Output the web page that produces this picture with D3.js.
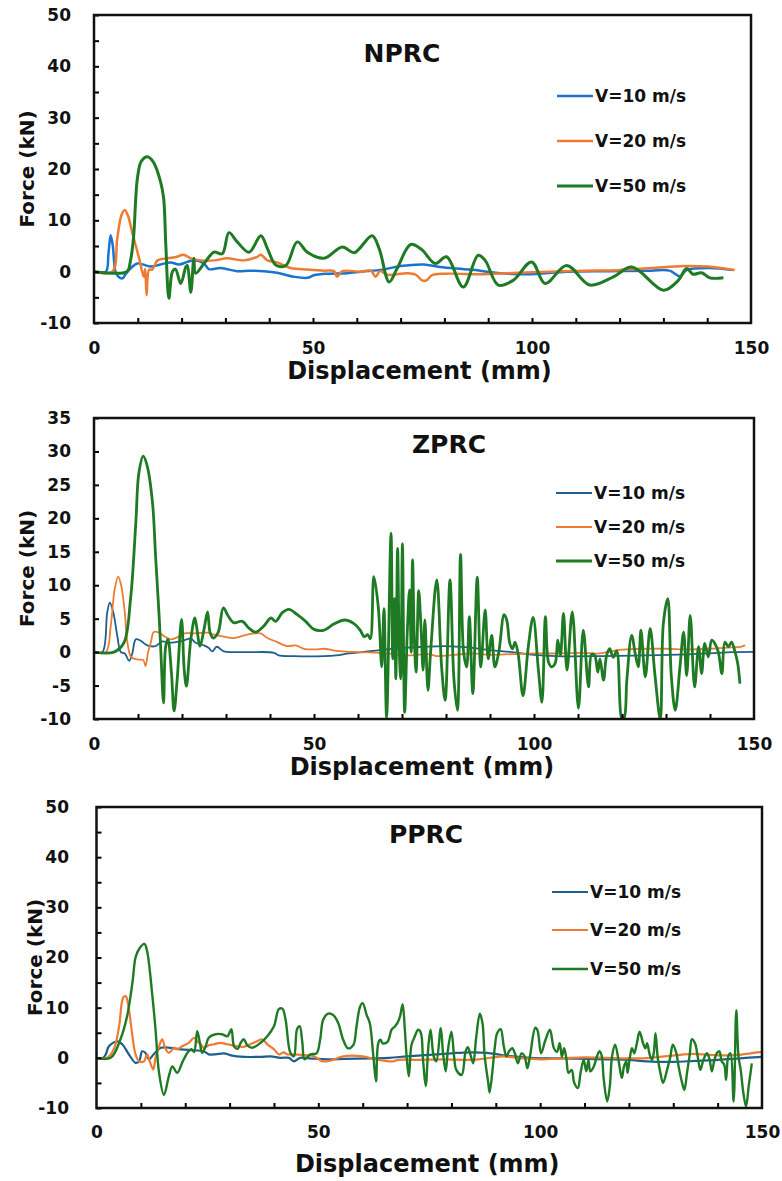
<!DOCTYPE html>
<html lang="en">
<head>
    <meta charset="UTF-8">
    <title>Force - displacement curves</title>
    <script src="https://d3js.org/d3.v7.min.js"></script>
    <style>
        body {
            margin: 0;
            padding: 0;
            background: #fff;
        }

        svg text {
            font-family: "DejaVu Sans", sans-serif;
            font-weight: bold;
            fill: #111;
        }

        .tick line {
            stroke: #000;
            stroke-width: 2;
        }
    </style>
</head>
<body>

<svg id="chart" width="782" height="1181"></svg>

<script>
    // Series labels and panel names
    const panelNames = ["NPRC", "ZPRC", "PPRC"];
    const seriesLabels = ["V=10 m/s", "V=20 m/s", "V=50 m/s"];

    // Tick labels
    const xTickLabels = [0, 50, 100, 150];
    const yTicksNPRC = [-10, 0, 10, 20, 30, 40, 50];
    const yTicksZPRC = [-10, -5, 0, 5, 10, 15, 20, 25, 30, 35];
    const yTicksPPRC = [-10, 0, 10, 20, 30, 40, 50];

    // NPRC: [displacement (mm), force (kN)]
    const nprcV10 = [[0,0],[2.7,0],[3.3,3.5],[3.8,7.1],[4.3,5],[4.9,0],[5.6,-1.0],[6.5,-1.3],[7.2,-0.5],[8.2,0.5],[9.9,1.6],[12.9,1.0],[15.2,1.4],[17.5,1.8],[19.4,1.4],[21.3,1.9],[22.8,2.2],[25.1,1.6],[26.2,0.5],[28.9,0.7],[32.7,0.1],[35.5,0.2],[38.8,0.1],[41.8,-0.2],[45.7,-1.0],[48.7,-1.2],[50.2,-0.7],[53.3,-0.4],[57.8,-0.3],[61,0],[65.9,0.4],[70.0,1.1],[75.3,1.4],[79,0.9],[85.8,0.4],[92.9,-0.3],[99.0,-0.5],[108.1,0],[117.3,0.1],[127.2,0.2],[131.4,0.2],[133.8,-0.9],[135.3,0.3],[140.6,0.7],[146.0,0.3]];
    const nprcV20 = [[0,0],[4.2,0],[5.3,6.4],[6.2,10.8],[7.0,12.0],[7.8,10.8],[8.7,7.7],[10.3,2.6],[11.0,0],[11.4,-1],[11.7,0.5],[12.0,-4.6],[12.6,0.4],[13.3,0.4],[14.5,2.2],[16.7,2.6],[19.0,2.9],[20.4,3.3],[22.1,2.6],[24.4,2.2],[27.5,2.2],[30.4,2.6],[34.2,2.2],[37.3,2.9],[38.1,3.3],[39.6,2.2],[41.8,1.8],[44.9,0.7],[48.7,0.4],[52.5,0.2],[54.8,0.1],[55.5,-1.0],[56.7,0.1],[60.9,0],[63.2,0.2],[64.3,-1.0],[65.3,0.1],[67.0,-0.6],[71.5,-0.3],[73.5,-0.6],[74.9,-1.7],[75.9,-1.7],[77.1,-0.7],[80.2,-0.4],[89.3,-0.5],[96.8,-0.2],[104.4,0],[112,0.2],[119.6,0.3],[127.2,0.7],[134.8,1.1],[140.1,1.0],[146.3,0.3]];
    const nprcV50 = [[0,0],[7.5,0],[8.3,2],[9.0,6.4],[9.9,18.1],[10.8,21.5],[12.2,22.4],[13.6,21.3],[15.2,17.5],[15.9,14.3],[16.4,5.1],[17.1,-5.2],[17.9,0],[18.6,0.5],[19.8,-2.3],[21.0,1.0],[21.3,1.2],[22.1,-4.0],[22.8,2.6],[23.2,-0.3],[25.3,1.8],[27.4,3.8],[29.3,3.5],[30.8,7.6],[32.7,5.8],[35.4,3.8],[38.1,7.0],[39.6,4.5],[41.5,1.3],[43.8,1.2],[46.4,5.8],[48.7,3.8],[52.5,2.6],[56.7,4.8],[59.4,3.7],[63.5,7.0],[65.1,4.5],[67.4,-2.0],[69.2,0.6],[72.3,5.3],[74.8,4.3],[77.9,1.6],[80.5,2.9],[84.3,-3.0],[87.7,3.2],[89.3,2.2],[92.3,-2.6],[95.7,-1.7],[99.9,1.9],[103,-2.3],[107.9,1.2],[113.2,-2.6],[118.6,-1.0],[122.8,0.9],[130.0,-3.6],[133.4,-1.7],[135.3,0.6],[136.8,-0.5],[138.7,-0.2],[140.6,-1.2],[143.7,-1.2]];

    // ZPRC
    const zprcV10 = [[0,0],[1.9,0],[3.0,5.9],[3.6,7.4],[4.4,5.9],[5.3,2.4],[6.1,0],[7.0,-0.2],[8.0,-1.3],[8.7,-0.2],[9.5,1.9],[10.6,1.7],[12.1,1.0],[14.0,0.9],[15.5,1.6],[17.0,1.4],[19.7,1.6],[22.0,2.0],[23.1,1.4],[25.0,1.0],[26.1,0.6],[26.9,0.1],[27.9,0.8],[29.5,0.1],[32,0],[35.6,0],[40.9,-0.1],[42.0,-0.5],[45.5,-0.6],[52.3,-0.6],[55,-0.5],[58,-0.2],[61,0],[65,0.3],[70,0.6],[75,0.8],[80,0.9],[85,0.7],[90,0.3],[95,0],[100,-0.4],[105,-0.6],[115,-0.6],[125,-0.5],[135,-0.35],[140,-0.2],[145,0],[150,0.05]];
    const zprcV20 = [[0,0],[2.7,0],[3.8,3.9],[4.7,9.4],[5.5,11.3],[6.2,9.9],[7.0,5.9],[7.6,1.4],[8.5,-0.8],[9.8,-1.1],[11.2,-1.2],[11.7,-2.1],[12.3,0],[12.9,1.4],[13.6,3.0],[14.8,2.9],[15.9,2.4],[17.4,1.9],[18.9,2.2],[20.5,2.8],[22.7,2.8],[25.8,2.9],[27.3,2.6],[29.5,2.3],[31.8,2.1],[34.1,2.5],[36.4,2.8],[37.9,2.8],[39.4,2.1],[41.3,1.6],[43.9,0.9],[45.8,1.0],[47.7,0.5],[50.4,0.4],[52.3,0.5],[55,0.2],[60,0],[65,-0.1],[68,-0.3],[72,-0.5],[76,-0.3],[78,-0.6],[82,-0.4],[86,-0.2],[90,-0.4],[95,-0.3],[100,-0.2],[105,-0.2],[110,-0.1],[115,-0.2],[118,0.2],[121,0.4],[125,0.5],[130,0.5],[135,0.4],[140,0.5],[145,0.7],[147,0.8],[148,1.0]];
    const zprcV50 = [[0,0],[4.5,0],[6.8,1.4],[8.3,7.9],[9.5,19.3],[10.2,26.8],[11.2,29.3],[12.1,27.8],[13.3,22.3],[14.0,14.3],[14.8,5.4],[15.2,0],[15.8,-7.6],[16.3,0.9],[16.8,1.9],[17.6,-3.1],[18.2,-8.8],[18.9,-4.1],[19.9,4.9],[20.5,-2.6],[21.0,-5.1],[22.0,1.9],[22.9,5.1],[23.3,3.9],[24.1,0.9],[25.0,3.4],[25.8,6.0],[26.4,2.9],[27.1,2.1],[28.2,2.9],[29.4,6.6],[30.5,5.4],[31.8,4.4],[33.7,4.6],[35.2,3.6],[36.7,3.0],[38.6,3.9],[40.2,5.1],[41.3,4.6],[42.8,5.9],[44.3,6.4],[46.2,5.6],[48.1,4.6],[50.0,3.4],[52.3,3.3],[54.5,4.2],[57.0,4.8],[59.0,4.3],[60.5,3.3],[61.4,2.3],[62.2,2.6],[62.8,2.0],[63.6,11.3],[64.6,6.8],[65.4,-2.2],[65.9,6.5],[66.5,-9.8],[67.5,17.8],[67.9,-1],[68.3,8],[68.6,-4],[69.0,15.5],[69.4,0],[69.7,-4],[70.1,16.2],[70.6,-9.0],[71.2,3],[71.7,9.3],[72.1,0],[72.4,13.8],[72.8,2],[73.2,-3],[73.8,9.2],[74.3,4],[74.8,-2.7],[75.2,4.8],[75.9,-5.7],[76.5,0],[77.9,10.8],[79.0,-2.2],[79.8,-7.2],[80.9,10.8],[81.8,-4],[82.6,-8.7],[83.3,14.6],[84.0,0],[84.7,-2.2],[85.3,5.3],[86.1,-6.2],[87.1,11.2],[87.9,-2.2],[88.9,6.3],[89.6,-1],[90.4,2.5],[91.1,-2.2],[92.0,0],[93.2,5.6],[93.8,4.8],[94.5,1.3],[95.1,0.5],[95.7,1.5],[96.4,-0.3],[97.5,-6.5],[98.7,0.8],[99.8,5.2],[101.0,-2.7],[101.8,-7.5],[102.6,5.3],[103.3,-1.5],[104.0,-2.2],[104.8,-1.7],[105.4,1.8],[106.0,-0.5],[106.7,5.8],[107.5,-2.7],[108.7,6.0],[110.1,-8.4],[111.2,3.3],[112.4,-5.2],[113.1,-0.3],[113.8,-0.5],[114.5,-3],[115.0,-1],[115.8,-4.2],[116.5,-0.5],[117.2,0.5],[118.0,-0.8],[118.8,0.2],[120.0,-10],[120.5,-9.8],[121.1,-4.2],[122.2,2.5],[123.0,-0.2],[123.7,-2.2],[124.3,3.3],[125.3,-3.7],[126.4,3.5],[127.5,-3.5],[128.7,-10],[129.4,4.3],[130.4,8.0],[131.2,-3.5],[132.1,-8.7],[133.2,-2],[134.0,3.0],[134.7,-3.5],[135.5,5.5],[136.5,-5.2],[137.4,0.8],[138.1,-3.2],[138.8,1.3],[139.6,-0.7],[140.4,1.8],[141.1,1.3],[141.9,0],[142.7,-3.2],[143.4,1.5],[144.2,0.8],[144.9,1.5],[145.7,0],[146.3,-1.7],[146.8,-4.7]];

    // PPRC
    const pprcV10 = [[0,0],[1.5,0],[2.1,0.7],[2.8,2.3],[4.7,3.3],[5.8,2.7],[7.3,0.7],[8.8,-1.0],[9.6,-0.7],[10.3,1.3],[11.0,1.0],[11.8,-0.3],[12.9,0.7],[14.5,2.0],[16.7,2.0],[19.0,1.7],[22.0,1.5],[24.2,1.3],[25.3,0.7],[26.8,0.7],[28.7,0.9],[30.3,0.5],[33.2,0.2],[36.9,0.2],[39.2,0.3],[41.5,0],[43.4,0],[44.5,-0.7],[45.9,0],[48,-0.1],[52,-0.3],[56,-0.2],[62,-0.1],[66,0],[70,0.3],[75,0.6],[80,0.9],[84,1.1],[88,1.0],[91,0.6],[95,0.2],[100,-0.1],[105,-0.1],[110,-0.2],[115,-0.3],[120,-0.4],[124,-0.7],[130,-0.8],[135,-0.6],[140,-0.4],[145,-0.1],[150,0.2]];
    const pprcV20 = [[0,0],[2.4,0],[3.9,1.7],[5.1,6.3],[6.0,12.0],[6.6,12.3],[7.3,9.7],[8.1,4.3],[8.8,0.7],[9.6,-0.7],[10.7,-0.7],[11.4,0.7],[12.0,-0.7],[12.8,-2.3],[13.3,0],[14.1,2.3],[14.8,3.7],[15.6,1.7],[16.3,1.0],[17.5,2.0],[18.2,1.7],[19.3,2.3],[20.8,3.0],[22.0,4.0],[22.7,3.3],[23.5,2.7],[24.2,2.0],[25.3,2.5],[26.5,2.7],[27.9,3.0],[29.5,2.7],[31.7,2.3],[33.2,2.2],[34.7,2.7],[36.2,3.3],[37.3,3.7],[38.5,2.7],[40,1.7],[41.1,0.7],[42.2,1.1],[43,0.7],[44.5,0.7],[47.5,0.5],[49,0.3],[51,-0.7],[52.5,-0.6],[55.6,0.3],[60,0.3],[63,-0.3],[66.9,-0.7],[68,-0.4],[72,-0.4],[78,-0.3],[85,-0.4],[91.6,0.3],[95,0],[100,-0.3],[105,-0.1],[110,0.1],[115,0],[120,-0.1],[125,0],[128,0.3],[131.6,0.6],[134.6,0.8],[138,0.6],[142,0.5],[145,0.6],[147.4,0.9],[150,1.2]];
    const pprcV50 = [[0,0],[3.2,0],[5.4,3.7],[6.9,8.3],[8.1,15],[8.8,20],[9.6,21.7],[10.8,22.7],[11.4,21.3],[12.6,12.3],[13.3,5.7],[14.1,-3],[15.2,-7.4],[16.3,-3.7],[17.1,-1.7],[18.2,-3],[19.3,-1],[20.5,1.0],[21.4,1.7],[22.0,1.2],[22.7,5.3],[23.3,3],[23.8,1],[24.6,2.3],[25.3,4],[26.8,4.7],[28.3,4.7],[29.5,4.3],[30.4,5.7],[31,2.3],[31.8,1.8],[32.5,3],[33.2,3.7],[34,2.5],[35.1,2],[37,3],[38.5,4.3],[40,6.3],[41.1,9.7],[41.9,9.8],[42.6,7.7],[43.7,1],[44.5,0.3],[45.2,5.7],[45.8,6.3],[46.4,3],[46.9,-0.3],[48.2,0.7],[49.6,0.9],[50.4,3.6],[51.1,7.6],[52.2,8.8],[53.4,8.5],[54.5,6.9],[55.6,3.6],[56.7,1.9],[57.9,2.6],[58.6,6.2],[59.4,10.2],[60,10.9],[60.9,8.5],[61.6,6.9],[62.4,0.3],[63,-4.7],[63.5,2.9],[64,3.6],[64.5,2.9],[65.6,3.2],[66.5,5.6],[67.2,6.2],[67.8,6.9],[68.4,8.2],[69,10.7],[69.5,5.6],[69.9,0.3],[70.4,-3.7],[71,2.6],[71.7,4.2],[72.5,5.6],[73.1,5],[73.6,-0.4],[74.2,-5.6],[74.8,2.3],[75.3,5.6],[76,0.3],[76.6,-0.7],[77.6,5.9],[78.1,1],[78.7,-2.7],[79.2,1.5],[80,5.2],[80.6,0.3],[81.1,-2.4],[82.3,-3.4],[83.2,1.3],[83.7,2.1],[84.3,0.6],[84.9,-1.1],[85.6,4.2],[86.4,8.8],[87,6.9],[87.5,0.3],[88.3,-5.0],[88.6,-6.9],[89.2,-3],[89.8,2.3],[90.3,4.9],[91.1,5.7],[91.8,2.3],[92.4,0.3],[93,1.3],[93.7,1.9],[94.3,0.9],[95,-1.1],[95.8,0.9],[96.5,0.3],[97.1,-2.1],[97.7,0.3],[98.9,6.0],[99.4,5.5],[100.2,0.9],[101.2,3.6],[102.2,5.6],[103.1,1.9],[103.8,1.2],[104.4,2.9],[104.9,0.2],[105.4,1.9],[105.9,-0.1],[106.4,-3.0],[107.1,-2.4],[107.7,-5],[108.5,-6],[109.1,-3],[109.8,-0.4],[110.4,-2.7],[110.9,-0.4],[111.3,-2.7],[112.1,-1.7],[112.8,0.3],[113.4,1.3],[113.9,0.3],[114.3,-4.0],[115.1,-8.7],[115.7,-5.7],[116.2,0.3],[116.9,2.6],[117.7,-0.7],[118.4,-4.0],[118.9,-1.7],[119.4,-0.7],[119.7,-3.0],[120.2,0],[120.7,1.9],[121.2,0.9],[121.8,2.9],[122.4,5.2],[123.2,2.9],[123.7,1.9],[124.1,2.9],[124.7,0.6],[125.2,-0.4],[125.6,0.9],[126.0,4.9],[126.5,0],[127.1,-3.0],[127.7,-5.0],[128.6,-2.4],[129.3,0],[129.9,2.6],[130.7,0.9],[131.2,-1.7],[132,-5.0],[132.5,-6.4],[133.1,-3],[133.7,0.6],[134.2,3.7],[134.9,2.9],[135.5,0.3],[136.1,-2.4],[136.8,-0.4],[137.6,0.9],[138.2,-0.4],[138.7,-2.7],[139.2,-0.7],[139.8,0.9],[140.4,1.3],[140.9,-0.7],[141.5,-1.4],[141.9,-4.4],[142.4,0.3],[142.9,0.9],[143.6,-8.7],[144.2,9.5],[144.7,0.3],[145.2,-2.4],[145.8,-7.0],[146.4,-9.7],[147,-5.7],[147.7,-1.1]];

    // Panel layout (pixel boxes, colours and line widths)
    const panels = [
        {
            name: panelNames[0], series: [nprcV10, nprcV20, nprcV50], yTicks: yTicksNPRC,
            box: { left: 94, right: 751, top: 15, bottom: 323 },
            colors: ["#1a73cf", "#ee7b32", "#1f7a24"], widths: [2.5, 2.5, 3],
            title: { x: 402, y: 62 }, legend: { x1: 557, x2: 593, y: [96, 141, 186] },
            xLabelY: 379, xTickY: 354, yLabelX: 27
        },
        {
            name: panelNames[1], series: [zprcV10, zprcV20, zprcV50], yTicks: yTicksZPRC,
            box: { left: 94, right: 754, top: 418, bottom: 719 },
            colors: ["#1f5f8e", "#ee7b32", "#1f7a24"], widths: [1.8, 1.8, 2.8],
            title: { x: 449, y: 453 }, legend: { x1: 556, x2: 592, y: [493, 527, 561] },
            xLabelY: 775, xTickY: 750, yLabelX: 27
        },
        {
            name: panelNames[2], series: [pprcV10, pprcV20, pprcV50], yTicks: yTicksPPRC,
            box: { left: 96.5, right: 762, top: 807, bottom: 1108 },
            colors: ["#1f5f8e", "#ee7b32", "#1f7a24"], widths: [2.2, 2.2, 2.4],
            title: { x: 426, y: 843 }, legend: { x1: 552, x2: 588, y: [892, 930, 969] },
            xLabelY: 1172, xTickY: 1138, yLabelX: 35
        }
    ];

    const svg = d3.select("#chart");

    panels.forEach((p, i) => {
        const b = p.box;
        const yMin = d3.min(p.yTicks), yMax = d3.max(p.yTicks);

        const x = d3.scaleLinear().domain([0, 150]).range([b.left, b.right]);
        const y = d3.scaleLinear().domain([yMin, yMax]).range([b.bottom, b.top]);

        const g = svg.append("g");

        // Clip to plot area
        g.append("clipPath").attr("id", "clip" + i)
            .append("rect")
            .attr("x", b.left).attr("y", b.top)
            .attr("width", b.right - b.left).attr("height", b.bottom - b.top);

        // Curves
        const line = d3.line()
            .x(d => x(d[0]))
            .y(d => y(d[1]))
            .curve(d3.curveCatmullRom.alpha(0.5));

        p.series.forEach((s, k) => {
            g.append("path")
                .datum(s)
                .attr("clip-path", `url(#clip${i})`)
                .attr("fill", "none")
                .attr("stroke", p.colors[k])
                .attr("stroke-width", p.widths[k])
                .attr("stroke-linejoin", "round")
                .attr("d", line);
        });

        // X axis (inside ticks every 10, labels every 50)
        const xAxis = d3.axisBottom(x)
            .tickValues(d3.range(0, 151, 10))
            .tickSize(-5)
            .tickPadding(p.xTickY - b.bottom - 12)
            .tickFormat(d => xTickLabels.includes(d) ? d : "");
        const gx = g.append("g")
            .attr("transform", `translate(0,${b.bottom})`)
            .call(xAxis);
        gx.select(".domain").remove();
        gx.selectAll("text").style("font-size", "17px").attr("fill", "#111");
        gx.selectAll(".tick").filter(d => !xTickLabels.includes(d)).select("text").remove();
        gx.selectAll(".tick").filter(d => d === 0 || d === 150).select("line").remove();

        // Y axis (inside ticks every 5)
        const yAxis = d3.axisLeft(y)
            .tickValues(d3.range(yMin, yMax + 0.1, 5))
            .tickSize(-5)
            .tickPadding(b.left - 71 - (i === 2 ? -2 : 0))
            .tickFormat(d => p.yTicks.includes(d) ? d : "");
        const gy = g.append("g")
            .attr("transform", `translate(${b.left},0)`)
            .call(yAxis);
        gy.select(".domain").remove();
        gy.selectAll("text").style("font-size", "17px").attr("fill", "#111");
        gy.selectAll(".tick").filter(d => !p.yTicks.includes(d)).select("text").remove();

        // Frame
        g.append("rect")
            .attr("x", b.left).attr("y", b.top)
            .attr("width", b.right - b.left).attr("height", b.bottom - b.top)
            .attr("fill", "none")
            .attr("stroke", "#111")
            .attr("stroke-width", 2.5);

        // Panel title
        g.append("text")
            .attr("x", p.title.x).attr("y", p.title.y)
            .attr("text-anchor", "middle")
            .style("font-size", "25px")
            .text(p.name);

        // Legend
        seriesLabels.forEach((lab, k) => {
            g.append("line")
                .attr("x1", p.legend.x1).attr("x2", p.legend.x2)
                .attr("y1", p.legend.y[k]).attr("y2", p.legend.y[k])
                .attr("stroke", p.colors[k])
                .attr("stroke-width", p.widths[k]);
            g.append("text")
                .attr("x", p.legend.x2 + 2).attr("y", p.legend.y[k])
                .attr("dy", "0.36em")
                .style("font-size", "17px")
                .text(lab);
        });

        // Axis titles
        g.append("text")
            .attr("x", (b.left + b.right) / 2 + (i === 0 ? -1 : 0) - 2)
            .attr("y", p.xLabelY)
            .attr("text-anchor", "middle")
            .style("font-size", "24px")
            .text("Displacement (mm)");

        g.append("text")
            .attr("transform", `translate(${p.yLabelX},${(b.top + b.bottom) / 2}) rotate(-90)`)
            .attr("text-anchor", "middle")
            .attr("dy", "0.35em")
            .style("font-size", "20px")
            .text("Force (kN)");
    });
</script>

</body>
</html>
